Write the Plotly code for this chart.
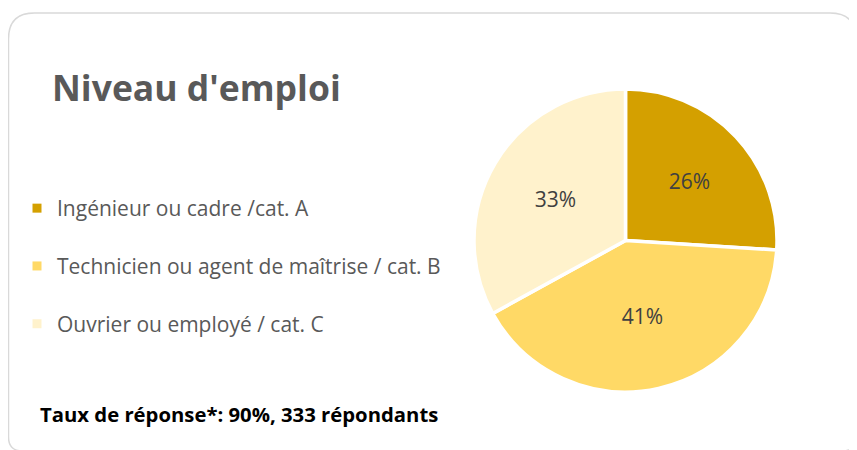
import plotly.graph_objects as go

categories = ["Ingénieur ou cadre /cat. A", "Technicien ou agent de maîtrise / cat. B", "Ouvrier ou employé / cat. C"]
values = [26, 41, 33]
colors = ["#D4A000", "#FFD966", "#FFF2CC"]
title_text = "Niveau d'emploi"
footer_text = "Taux de réponse*: 90%, 333 répondants"

W, H = 857, 450
OFF = 8  # default page body margin
FONT = "Open Sans"

def px(x):
    return (x - OFF) / W

def py(y):
    return 1 - (y - OFF) / H

fig = go.Figure()

cx, cy, r = 625.5, 240.5, 151.5
fig.add_trace(go.Pie(
    labels=categories, values=values, sort=False, direction="clockwise", rotation=0,
    marker=dict(colors=colors, line=dict(color="white", width=3.5)),
    texttemplate="%{value}%", textposition="inside", insidetextorientation="horizontal",
    textfont=dict(family=FONT, size=21, color="#404040"),
    domain=dict(x=[px(cx - r), px(cx + r)], y=[py(cy + r), py(cy - r)]),
    showlegend=False, hoverinfo="label+percent",
))

for i, (cat, col) in enumerate(zip(categories, colors)):
    fig.add_trace(go.Scatter(
        x=[None], y=[None], mode="markers", name=cat, legendgroup=f"g{i}",
        marker=dict(symbol="square", size=9, color=col),
    ))

# rounded frame
x0, y0, x1, y1 = 8.5, 13, 856, 451
rt, rb = 26, 14
path = (f"M {px(x0)},{py(y0 + rt)} Q {px(x0)},{py(y0)} {px(x0 + rt)},{py(y0)} "
        f"L {px(x1 - rt)},{py(y0)} Q {px(x1)},{py(y0)} {px(x1)},{py(y0 + rt)} "
        f"L {px(x1)},{py(y1 - rb)} Q {px(x1)},{py(y1)} {px(x1 - rb)},{py(y1)} "
        f"L {px(x0 + rb)},{py(y1)} Q {px(x0)},{py(y1)} {px(x0)},{py(y1 - rb)} Z")
fig.add_shape(type="path", path=path, xref="paper", yref="paper",
              line=dict(color="#D9D9D9", width=1.5), layer="below")

fig.add_annotation(text=f"<b>{title_text}</b>", x=px(50), y=py(87), xref="paper", yref="paper",
                   xanchor="left", yanchor="middle", showarrow=False,
                   font=dict(family=FONT, size=35.5, color="#595959"))
fig.add_annotation(text=f"<b>{footer_text}</b>", x=px(38), y=py(414), xref="paper", yref="paper",
                   xanchor="left", yanchor="middle", showarrow=False,
                   font=dict(family=FONT, size=20.3, color="#000000"))

fig.update_layout(
    width=W, height=H, margin=dict(l=0, r=0, t=0, b=0),
    paper_bgcolor="white", plot_bgcolor="white",
    xaxis=dict(visible=False), yaxis=dict(visible=False),
    legend=dict(x=px(17), y=py(188), xanchor="left", yanchor="top",
                font=dict(family=FONT, size=21, color="#595959"),
                tracegroupgap=27.5, itemclick=False, bgcolor="rgba(0,0,0,0)"),
)

fig.write_html("out.html")
